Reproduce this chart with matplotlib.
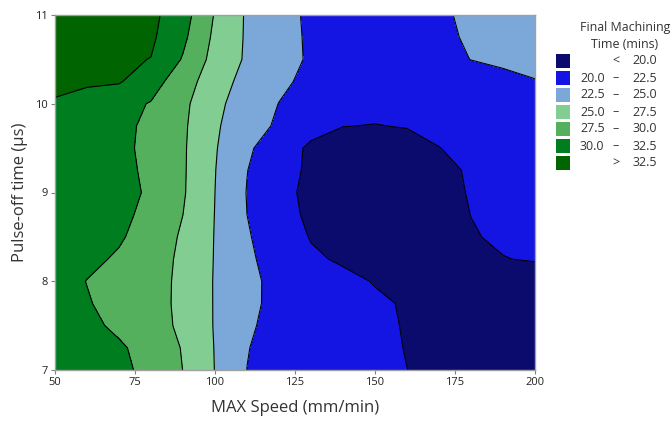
import numpy as np
import matplotlib
matplotlib.use("Agg")
import matplotlib.pyplot as plt
from matplotlib.patches import Rectangle

# Data grid: MAX Speed (x) and Pulse-off time (y)
speed = [50, 60, 70, 80, 90, 100, 110, 120, 130, 140, 150, 160, 170, 180, 190, 200]
pulse_off = [7.0, 7.25, 7.5, 7.75, 8.0, 8.25, 8.5, 8.75, 9.0, 9.25, 9.5, 9.75, 10.0, 10.25, 10.5, 10.75, 11.0]

# Final machining time (mins), one row per pulse-off value
time_rows = [
    [31.30, 30.78, 30.25, 29.70, 27.47, 24.95, 22.49, 22.00, 21.50, 21.00, 20.51, 20.01, 19.68, 19.35, 19.03, 18.70],  # 7.0
    [31.20, 30.67, 30.25, 29.30, 27.33, 24.91, 22.55, 21.99, 21.46, 20.93, 20.41, 19.94, 19.65, 19.37, 19.08, 18.80],  # 7.25
    [31.10, 30.45, 29.64, 28.45, 27.06, 24.85, 22.71, 22.01, 21.46, 20.91, 20.36, 19.89, 19.56, 19.23, 18.90, 19.00],  # 7.5
    [31.00, 30.17, 29.19, 28.17, 27.10, 24.84, 22.89, 22.03, 21.45, 20.87, 20.29, 19.83, 19.50, 19.17, 19.02, 19.10],  # 7.75
    [31.00, 29.95, 29.02, 28.09, 27.17, 24.83, 22.97, 21.95, 21.21, 20.48, 19.90, 19.62, 19.34, 19.28, 19.36, 19.44],  # 8.0
    [31.10, 30.49, 29.74, 28.45, 27.10, 24.88, 22.90, 21.52, 20.30, 19.75, 19.41, 19.07, 19.10, 19.51, 19.97, 20.08],  # 8.25
    [31.20, 30.72, 30.24, 29.07, 27.16, 24.91, 22.72, 21.14, 19.89, 19.45, 19.02, 19.03, 19.48, 19.93, 20.14, 20.30],  # 8.5
    [31.30, 30.84, 30.37, 29.58, 27.50, 24.95, 22.50, 20.65, 19.68, 19.19, 18.70, 19.14, 19.58, 20.01, 20.31, 20.60],  # 8.75
    [31.40, 30.92, 30.44, 29.81, 27.73, 25.00, 22.42, 20.45, 19.64, 19.17, 18.88, 19.27, 19.67, 20.07, 20.48, 20.90],  # 9.0
    [31.50, 30.97, 30.44, 29.68, 27.77, 25.06, 22.55, 20.66, 19.71, 19.26, 18.97, 19.35, 19.72, 20.12, 20.61, 21.10],  # 9.25
    [31.70, 31.08, 30.45, 29.52, 27.79, 25.17, 22.94, 20.90, 19.70, 19.50, 19.27, 19.62, 19.97, 20.43, 20.92, 21.40],  # 9.5
    [31.90, 31.21, 30.52, 29.57, 27.87, 25.33, 23.46, 22.17, 20.60, 20.02, 19.97, 20.05, 20.40, 20.90, 21.35, 21.70],  # 9.75
    [32.30, 31.51, 30.73, 29.87, 28.05, 25.56, 23.86, 22.46, 21.67, 20.70, 20.30, 20.60, 20.95, 21.30, 21.62, 22.00],  # 10.0
    [33.00, 32.85, 32.70, 30.96, 28.68, 26.05, 24.23, 22.95, 21.94, 21.07, 20.50, 20.80, 21.15, 21.55, 21.96, 22.40],  # 10.25
    [33.60, 33.22, 32.84, 32.45, 29.81, 26.64, 24.69, 23.39, 22.21, 21.31, 20.60, 21.12, 21.85, 22.53, 22.87, 23.20],  # 10.5
    [34.00, 33.60, 33.25, 32.90, 30.50, 27.00, 24.72, 23.33, 22.18, 21.39, 20.70, 21.36, 22.12, 22.72, 23.16, 23.60],  # 10.75
    [34.50, 34.00, 33.55, 33.10, 31.00, 27.33, 24.72, 23.22, 22.15, 21.47, 20.80, 21.51, 22.22, 22.85, 23.42, 24.00],  # 11.0
]

levels = [20.0, 22.5, 25.0, 27.5, 30.0, 32.5]
colors = ["#0b0b6e", "#1414e3", "#7ba7d9", "#82cd92", "#55b05d", "#007d1f", "#006400"]
legend_left = ["", "20.0", "22.5", "25.0", "27.5", "30.0", ""]
legend_mid = ["<", "–", "–", "–", "–", "–", ">"]
legend_right = ["20.0", "22.5", "25.0", "27.5", "30.0", "32.5", "32.5"]

plt.rcParams['font.family'] = ['Open Sans', 'DejaVu Sans']

X, Y = np.meshgrid(speed, pulse_off)
Z = np.array(time_rows)

fig = plt.figure(figsize=(6.72, 4.22), dpi=100)
ax = fig.add_axes([55/672, 52/422, 480/672, 355/422])

bounds = [-1e9] + levels + [1e9]
ax.contourf(X, Y, Z, levels=bounds, colors=colors)
ax.contour(X, Y, Z, levels=levels, colors="black", linewidths=0.8)

ax.set_xlim(50, 200)
ax.set_ylim(7, 11)
ax.set_xticks([50, 75, 100, 125, 150, 175, 200])
ax.set_yticks([7, 8, 9, 10, 11])
for s in ax.spines.values():
    s.set_color("#a0a0a0")
    s.set_linewidth(1.0)
ax.tick_params(axis="both", direction="out", length=3, color="#808080",
               labelsize=8, labelcolor="#222222", pad=2)
ax.set_xlabel("MAX Speed (mm/min)", fontsize=12, color="#333333", labelpad=9)
ax.set_ylabel("Pulse-off time (µs)", fontsize=12, color="#333333", labelpad=5)

# Legend
fig.text(625/672, 1 - 28/422, "Final Machining", ha="center", va="center",
         fontsize=8.9, color="#333333")
fig.text(625/672, 1 - 45/422, "Time (mins)", ha="center", va="center",
         fontsize=8.9, color="#333333")
y0 = 61
step = 17
for i, c in enumerate(colors):
    yc = y0 + i * step
    fig.patches.append(Rectangle((556/672, 1 - (yc + 7)/422), 14/672, 14/422,
                                 transform=fig.transFigure, facecolor=c,
                                 edgecolor="none"))
    if legend_left[i]:
        fig.text(580/672, 1 - yc/422, legend_left[i], ha="left", va="center",
                 fontsize=9, color="#333333")
    fig.text(616/672, 1 - yc/422, legend_mid[i], ha="center", va="center",
             fontsize=9, color="#333333")
    fig.text(657/672, 1 - yc/422, legend_right[i], ha="right", va="center",
             fontsize=9, color="#333333")

fig.savefig("out.png", dpi=100)
